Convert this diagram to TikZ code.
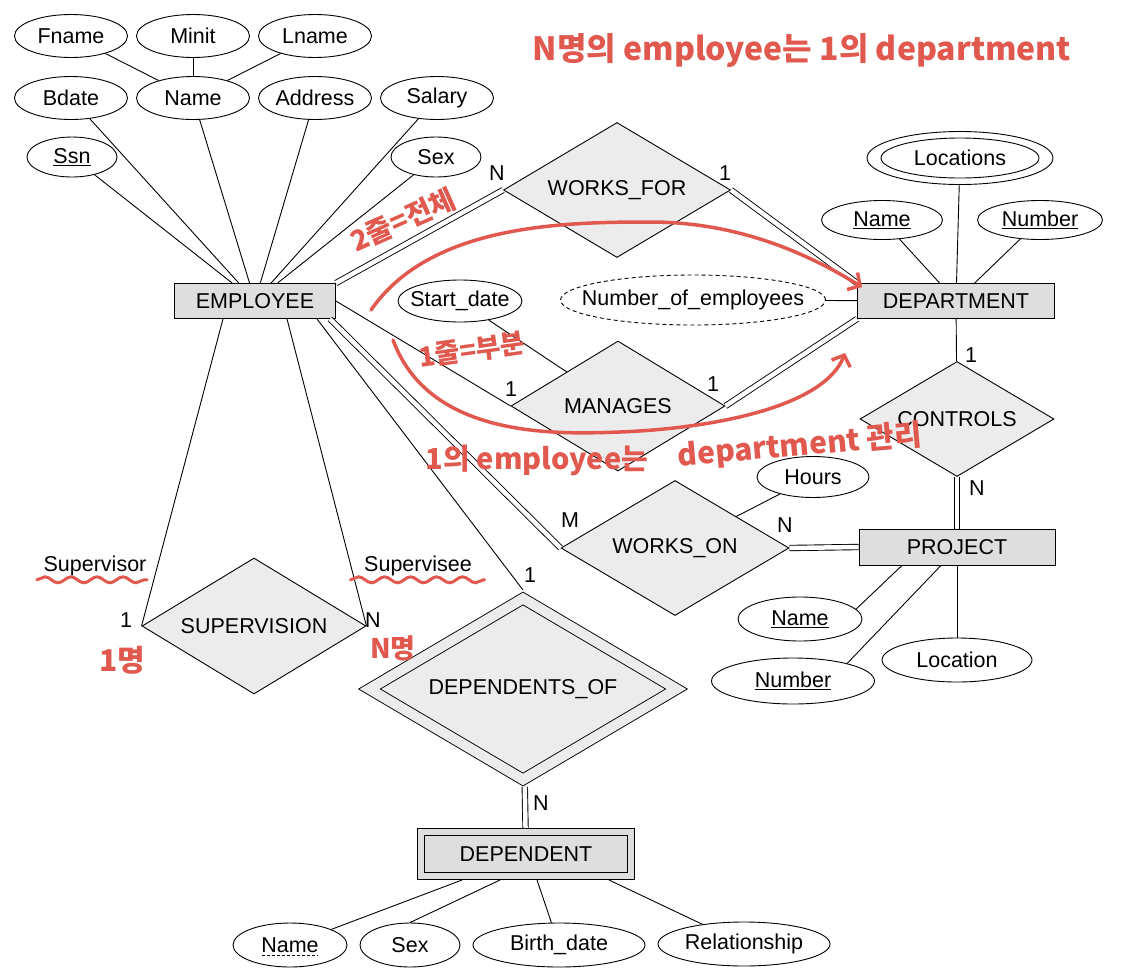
\documentclass[tikz,border=0pt]{standalone}
\usepackage{fontspec}
\setmainfont{Liberation Sans}
\newfontfamily\krfont{Noto Sans CJK KR}
\usetikzlibrary{shapes.geometric,arrows.meta,decorations.pathmorphing}
\definecolor{boxgray}{gray}{0.87}
\definecolor{relgray}{gray}{0.925}
\definecolor{pen}{RGB}{224,88,78}

\begin{document}
\begin{tikzpicture}[x=1pt,y=-1pt,line width=0.9pt,
		every node/.style={font=\fontsize{21.5}{25}\selectfont},
		entity/.style={rectangle, draw, fill=boxgray, minimum width=161, minimum height=35, inner sep=0pt},
		weakentity/.style={entity, double=boxgray, double distance=6pt, outer sep=4pt},
		rel/.style={diamond, draw, fill=relgray, aspect=1.7, inner sep=0pt, minimum width=226, minimum height=134},
		identrel/.style={rel, double=relgray, double distance=10pt, outer sep=6pt},
		attr/.style={ellipse, draw, fill=white, inner xsep=-20pt, inner ysep=0pt, minimum width=112, minimum height=42},
		derived/.style={attr, dash pattern=on 4pt off 3pt},
		total/.style={double, double distance=4.5pt},
		scribble/.style={text=pen, inner sep=1pt, font=\krfont\bfseries\fontsize{#1}{#1}\selectfont},
		pen line/.style={draw=pen, line width=3.5pt, line cap=round}
	]
	\useasboundingbox (0,0) rectangle (1138,978);

	\node[entity] (emp) at (255,301) {EMPLOYEE};
	\node[entity, minimum width=197] (dept) at (956,301) {DEPARTMENT};
	\node[entity, minimum width=196, minimum height=36] (proj) at (957,547) {PROJECT};
	\node[weakentity, minimum width=210, minimum height=44] (dep) at (526,854) {DEPENDENT};

	\node[rel, minimum width=227, minimum height=135] (wf) at (617,190) {WORKS\_FOR};
	\node[rel, minimum width=214, minimum height=130] (mg) at (618,406) {MANAGES};
	\node[rel, minimum width=228, minimum height=135] (wo) at (675,548) {WORKS\_ON};
	\node[rel, minimum width=194, minimum height=115] (ctrl) at (957,419) {CONTROLS};
	\node[rel, minimum width=224, minimum height=136] (sup) at (254,626) {SUPERVISION};
	\node[identrel, minimum width=312, minimum height=186] (depof) at (523,689) {DEPENDENTS\_OF};

	\foreach \n/\x/\y/\t in {fname/71/36/Fname, minit/193/36/Minit, lname/315/36/Lname, bdate/71/98/Bdate, ename/193/98/Name, addr/315/98/Address, sal/437/98/Salary}
		\node[attr, minimum width=113, minimum height=43] (\n) at (\x,\y) {\t};
	\node[attr, minimum width=90, minimum height=40] (ssn) at (72,157) {\underline{Ssn}};
	\node[attr, minimum width=90, minimum height=40] (esex) at (436,157) {Sex};

	\node[attr, minimum width=121, minimum height=39] (dname) at (882,220) {\underline{Name}};
	\node[attr, minimum width=125, minimum height=39] (dnum) at (1040,220) {\underline{Number}};
	\node[attr, minimum width=186, minimum height=53] (loc) at (960,158) {Locations};
	\draw (loc.center) ellipse (79pt and 20pt);
	\node[derived, minimum width=265, minimum height=50] (noe) at (693,300) {Number\_of\_employees};
	\node[attr, minimum width=124, minimum height=42] (sd) at (460,301) {Start\_date};
	\node[attr, minimum width=112, minimum height=41] (hrs) at (813,477) {Hours};

	\node[attr, minimum width=124, minimum height=44] (pname) at (800,619) {\underline{Name}};
	\node[attr, minimum width=163, minimum height=46] (pnum) at (793,681) {\underline{Number}};
	\node[attr, minimum width=150, minimum height=44] (ploc) at (957,660) {Location};

	\node[attr, minimum width=114, minimum height=44] (dpname) at (290,945) {Name};
	\draw[line width=0.7pt, dash pattern=on 3pt off 2pt] ([shift={(-28,10)}]dpname.center) -- ([shift={(28,10)}]dpname.center);
	\node[attr, minimum width=100, minimum height=44] (dpsex) at (410,945) {Sex};
	\node[attr, minimum width=172, minimum height=44] (dpbd) at (559,945) {Birth\_date};
	\node[attr, minimum width=172, minimum height=44] (dprel) at (744,944) {Relationship};

	\node (svr) at (95,566) {Supervisor};
	\node (sve) at (418,566) {Supervisee};
	\foreach \x/\y/\t [count=\i] in {497/173/N, 725/173/1, 511/389/1, 713/384/1, 570/520/M, 785/525/N, 971/355/1, 977/488/N, 530/575/1, 541/803/N, 126/620/1, 373/620/N}
		\node (card\i) at (\x,\y) {\t};

	\foreach \a in {fname, minit, lname}
		\draw (\a) -- (ename);
	\foreach \a in {ssn, bdate, ename, addr, sal, esex}
		\draw (\a) -- (emp);
	\foreach \a in {dname, dnum, loc}
		\draw (\a) -- (dept);

	\draw[total] (emp.north east) -- (wf.west);
	\draw[total] (wf.east) -- (dept.north west);
	\draw (emp.east) -- (mg.west);
	\draw[total] (mg.east) -- (dept.south west);
	\draw (sd) -- (mg);
	\draw (noe) -- (dept);
	\draw[total] ([xshift=-6pt]emp.south east) -- (wo.west);
	\draw (hrs) -- (wo);
	\draw[total] (wo.east) -- (proj.west);
	\draw (dept) -- (ctrl);
	\draw[total] (ctrl) -- (proj);
	\draw ([xshift=-19pt]emp.south east) -- (depof.north);
	\draw[total] (depof) -- (dep);
	\draw ([xshift=-32pt]emp.south) -- (sup.west);
	\draw ([xshift=32pt]emp.south) -- (sup.east);

	\draw (pname.10) -- ([xshift=-55pt]proj.south);
	\draw (pnum.18) -- ([xshift=-16pt]proj.south);
	\draw (ploc) -- (proj);
	\draw (dpname) -- ([xshift=-64pt]dep.south);
	\draw (dpsex.north) -- ([xshift=-26pt]dep.south);
	\draw (dpbd) -- ([xshift=11pt]dep.south);
	\draw (dprel) -- ([xshift=83pt]dep.south);

	\node[scribble=32] (note1) at (802,50) {N명의 employee는 1의 department};
	\node[scribble=28, rotate=24] (note2) at (403,220) {2줄=전체};
	\node[scribble=27, rotate=8] (note3) at (472,350) {1줄=부분};
	\node[scribble=29] (note4) at (537,460) {1의 employee는};
	\node[scribble=30, rotate=5] (note5) at (800,446) {department 관리};
	\node[scribble=30] (note6) at (122,660) {1명};
	\node[scribble=27] (note7) at (393,648) {N명};

	\draw[pen line, -{Straight Barb[length=9pt,width=20pt]}] (371,310) .. controls (430,225) and (560,222) .. (650,222) .. controls (740,222) and (810,255) .. (862,287);
	\draw[pen line, -{Straight Barb[length=9pt,width=20pt]}] (393,340) .. controls (430,440) and (560,434) .. (620,432) .. controls (720,428) and (825,405) .. (845,353);
	\draw[pen line, line width=3pt, decorate, decoration={snake, amplitude=3pt, segment length=26pt}] ([xshift=-3pt]svr.south west) -- ([xshift=-3pt]svr.south east);
	\draw[pen line, line width=3pt, decorate, decoration={snake, amplitude=3pt, segment length=26pt}] ([xshift=-10pt]sve.south west) -- ([xshift=9pt]sve.south east);
\end{tikzpicture}
\end{document}
